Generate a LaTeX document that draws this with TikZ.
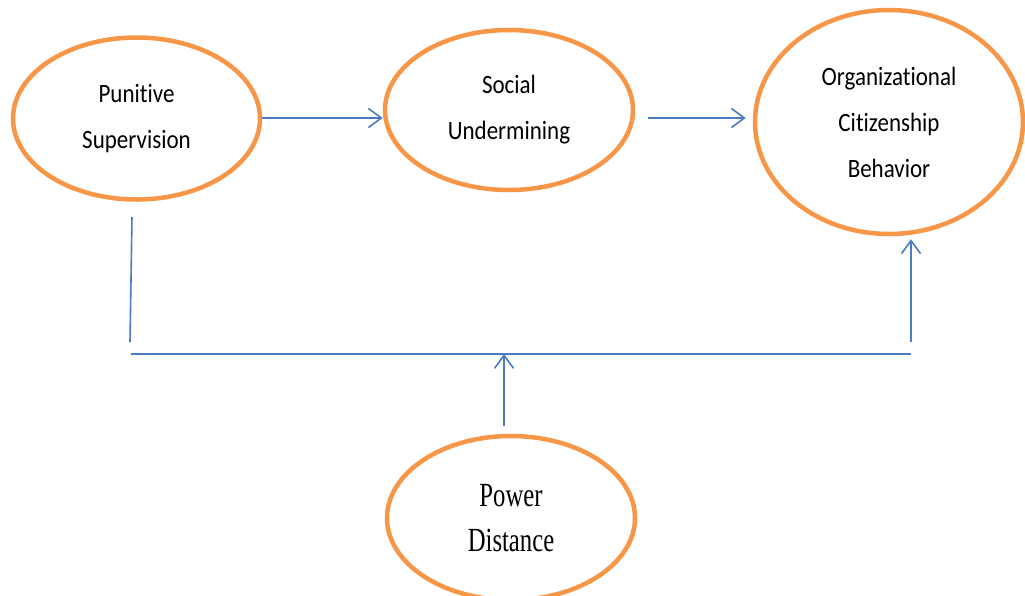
\documentclass[tikz,border=0pt]{standalone}
\usepackage{fontspec}
\setmainfont[Ligatures=NoCommon]{Carlito}
\newfontfamily\pdfont{Liberation Serif}
\usetikzlibrary{shapes.geometric,arrows.meta}
\definecolor{ovalorange}{HTML}{F79646}
\definecolor{linkblue}{HTML}{4A7BC4}
\newcommand{\tallA}[1]{\scalebox{1}[1.15]{#1}}
\newcommand{\tallB}[1]{\scalebox{0.95}[1.3]{#1}}
\tikzset{
  oval/.style={ellipse, draw=ovalorange, line width=4.5pt, fill=white, inner sep=0pt, align=center,
    font=\fontsize{23}{46}\selectfont},
  link/.style={draw=linkblue, line width=1.6pt},
  arr/.style={link, -{Straight Barb[length=13pt,width=19pt,line width=1.6pt]}}
}
\begin{document}
\begin{tikzpicture}[x=1pt,y=-1pt]
\useasboundingbox (0,0) rectangle (1025,595);
\clip (0,0) rectangle (1025,595);
\node[oval, minimum width=247pt, minimum height=162pt] (ps) at (136.5,118.5) {\tallA{Punitive}\\\tallA{Supervision}};
\node[oval, minimum width=248pt, minimum height=160pt] (su) at (509,110) {\tallA{Social}\\\tallA{Undermining}};
\node[oval, minimum width=268pt, minimum height=224pt] (ocb) at (889,122) {\tallA{Organizational}\\\tallA{Citizenship}\\\tallA{Behavior}};
\node[oval, minimum width=248pt, minimum height=164pt, font=\pdfont\fontsize{26}{45}\selectfont] (pd) at (511,518) {\tallB{Power}\\\tallB{Distance}};

\coordinate (row) at (0,118);
\coordinate (lt) at (132,217);
\coordinate (lb) at (130,342);
\coordinate (hl) at (131,354);
\coordinate (hr) at (911,354);
\coordinate (rb) at (911,342);
\coordinate (pdtop) at (504,354);

\draw[arr] (ps.east |- row) -- (su.west |- row);
\draw[arr] ([xshift=13pt]su.east |- row) -- ([xshift=-7pt]ocb.west |- row);
\draw[link] (lt) -- (lb);
\draw[link] (hl) -- (hr);
\draw[arr] (rb) -- ([yshift=-3pt]ocb.south -| rb);
\draw[arr] ([yshift=8pt]pd.north -| pdtop) -- (pdtop);
\end{tikzpicture}
\end{document}
